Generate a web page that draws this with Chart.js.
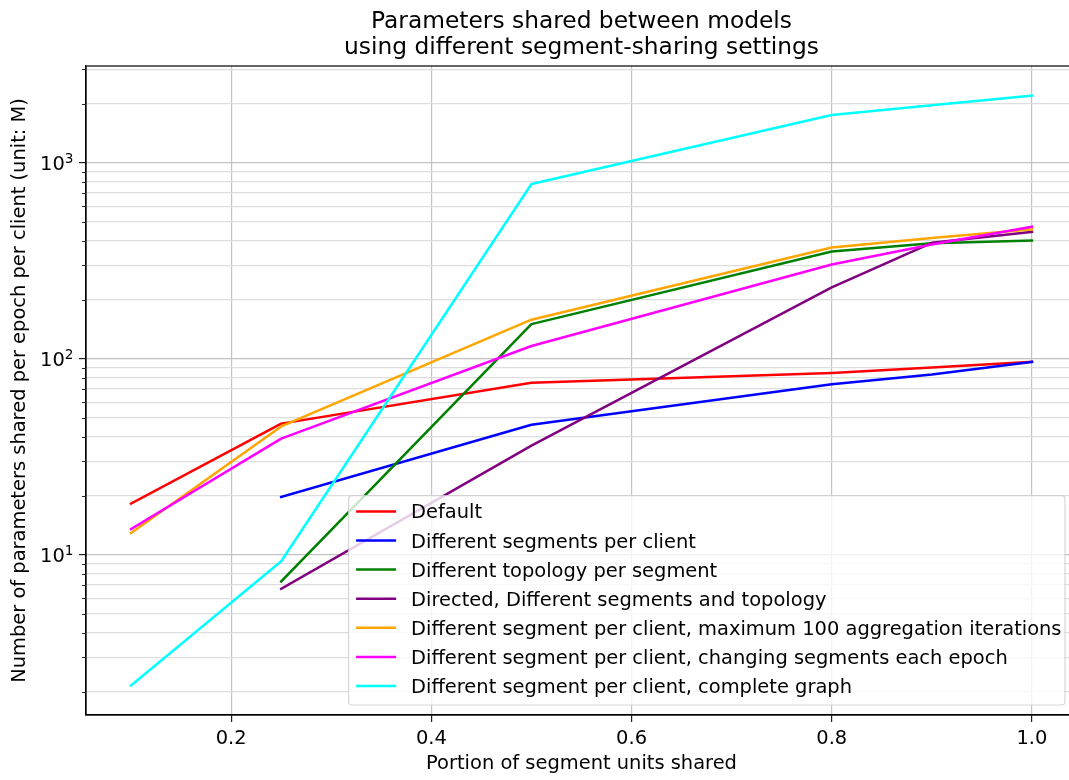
<!DOCTYPE html>
<html>
<head>
<meta charset="utf-8">
<title>Parameters shared between models</title>
<script src="https://cdn.jsdelivr.net/npm/chart.js@4/dist/chart.umd.min.js"></script>
<style>
  html, body { margin: 0; padding: 0; background: #ffffff; overflow: hidden; }
  #wrap { width: 1078px; height: 780px; }
</style>
</head>
<body>
<div id="wrap"><canvas id="chart" width="1078" height="780"></canvas></div>
<script>
// Portion of segment units shared (x positions)
const shareFractions = [0.1, 0.25, 0.5, 0.8, 0.9, 1.0];

// Parameters shared per epoch per client, in millions (null = not measured)
const defaultSeries            = [18.2, 46.6, 75.3, 84.5, 90.0, 96.2];
const segmentsPerClient        = [null, 19.7, 46.0, 74.0, 83.0, 96.2];
const topologyPerSegment       = [null, 7.3, 150, 352, 388, 400];
const directedSegmentsTopology = [null, 6.7, 36.0, 231, 390, 443];
const maxAggregation100        = [12.9, 45.1, 158, 369, 412, 457];
const changingSegments         = [13.5, 39.1, 116, 302, 382, 471];
const completeGraph            = [2.15, 9.25, 778, 1750, 1960, 2200];

const seriesLabels = [
  'Default',
  'Different segments per client',
  'Different topology per segment',
  'Directed, Different segments and topology',
  'Different segment per client, maximum 100 aggregation iterations',
  'Different segment per client, changing segments each epoch',
  'Different segment per client, complete graph'
];
const seriesValues = [
  defaultSeries, segmentsPerClient, topologyPerSegment, directedSegmentsTopology,
  maxAggregation100, changingSegments, completeGraph
];
const seriesColors = ['#ff0000', '#0000ff', '#008000', '#800080', '#ffa500', '#ff00ff', '#00ffff'];

const xTickValues = [0.2, 0.4, 0.6, 0.8, 1.0];
const xLimits = [0.055, 1.045];
const yLimits = [1.52, 3112];

const titleLines = ['Parameters shared between models', 'using different segment-sharing settings'];
const xAxisTitle = 'Portion of segment units shared';
const yAxisTitle = 'Number of parameters shared per epoch per client (unit: M)';

const FONT = '"DejaVu Sans", "Liberation Sans", sans-serif';
const FS = 19.44;          // base text size
const TITLE_FS = 23.33;    // title text size
const MAJOR_GRID = '#c2c2c2';
const MINOR_GRID = '#dddddd';

function isDecade(v) {
  const l = Math.log10(v);
  return Math.abs(l - Math.round(l)) < 1e-9;
}

// Log-axis ticks: every 1..9 x 10^n inside the limits
function logTicks(min, max) {
  const out = [];
  for (let e = Math.floor(Math.log10(min)); e <= Math.ceil(Math.log10(max)); e++) {
    for (let m = 1; m <= 9; m++) {
      const v = m * Math.pow(10, e);
      if (v >= min && v <= max) out.push(v);
    }
  }
  return out;
}

const datasets = seriesValues.map((vals, i) => ({
  label: seriesLabels[i],
  data: shareFractions.map((x, j) => ({ x: x, y: vals[j] })).filter(p => p.y !== null),
  borderColor: seriesColors[i],
  backgroundColor: seriesColors[i],
  borderWidth: 2.5,
  pointRadius: 0,
  pointHoverRadius: 0,
  tension: 0,
  fill: false,
  borderJoinStyle: 'round',
  borderCapStyle: 'square',
  order: seriesValues.length - i
}));

// Frame around the plotting area, minor tick marks and 10^n labels of the log axis
const framePlugin = {
  id: 'frame',
  afterDatasetsDraw(chart) {
    const { ctx, chartArea: a } = chart;
    const y = chart.scales.y;
    ctx.save();
    ctx.strokeStyle = '#000000';
    ctx.lineWidth = 1.2;
    ctx.strokeRect(a.left, a.top, a.right - a.left, a.bottom - a.top);
    ctx.strokeStyle = '#222222';
    ctx.lineWidth = 1.0;
    y.ticks.forEach(t => {
      if (isDecade(t.value)) return;
      const py = Math.round(y.getPixelForValue(t.value)) + 0.5;
      ctx.beginPath();
      ctx.moveTo(a.left - 4, py);
      ctx.lineTo(a.left, py);
      ctx.stroke();
    });
    // decade labels as 10 with a raised exponent
    const supFs = FS * 0.7;
    const labelRight = a.left - 12.5;
    ctx.fillStyle = '#000000';
    ctx.textBaseline = 'alphabetic';
    y.ticks.forEach(t => {
      if (!isDecade(t.value)) return;
      const py = y.getPixelForValue(t.value);
      const exp = String(Math.round(Math.log10(t.value)));
      ctx.font = supFs + 'px ' + FONT;
      const supW = ctx.measureText(exp).width;
      ctx.textAlign = 'left';
      ctx.fillText(exp, labelRight - supW, py + 0.5);
      ctx.font = FS + 'px ' + FONT;
      ctx.textAlign = 'right';
      ctx.fillText('10', labelRight - supW, py + 0.365 * FS);
    });
    ctx.restore();
  }
};

// Legend drawn inside the plotting area, lower right
const insideLegend = {
  id: 'insideLegend',
  afterDraw(chart) {
    const { ctx, chartArea: a } = chart;
    const ds = chart.data.datasets;
    ctx.save();
    ctx.font = FS + 'px ' + FONT;
    const textW = Math.max.apply(null, ds.map(d => ctx.measureText(d.label).width));
    const padL = 7.5, handleLen = 40, gap = 15, padR = 3.5;
    const rowH = 29.1, firstRow = 15.7, lastPad = 19;
    const w = padL + handleLen + gap + textW + padR;
    const h = firstRow + rowH * (ds.length - 1) + lastPad;
    const x = a.right - 12 - w;
    const y = a.bottom - 10 - h;
    const r = 3.5;
    ctx.beginPath();
    ctx.moveTo(x + r, y);
    ctx.lineTo(x + w - r, y);
    ctx.arcTo(x + w, y, x + w, y + r, r);
    ctx.lineTo(x + w, y + h - r);
    ctx.arcTo(x + w, y + h, x + w - r, y + h, r);
    ctx.lineTo(x + r, y + h);
    ctx.arcTo(x, y + h, x, y + h - r, r);
    ctx.lineTo(x, y + r);
    ctx.arcTo(x, y, x + r, y, r);
    ctx.closePath();
    ctx.fillStyle = 'rgba(255,255,255,0.8)';
    ctx.fill();
    ctx.strokeStyle = 'rgba(204,204,204,0.8)';
    ctx.lineWidth = 1.2;
    ctx.stroke();
    ds.forEach((d, i) => {
      const cy = y + firstRow + i * rowH;
      ctx.strokeStyle = d.borderColor;
      ctx.lineWidth = 2.5;
      ctx.lineCap = 'butt';
      ctx.beginPath();
      ctx.moveTo(x + padL, cy);
      ctx.lineTo(x + padL + handleLen, cy);
      ctx.stroke();
      ctx.fillStyle = '#000000';
      ctx.textAlign = 'left';
      ctx.textBaseline = 'alphabetic';
      ctx.fillText(d.label, x + padL + handleLen + gap, cy + 0.365 * FS);
    });
    ctx.restore();
  }
};

new Chart(document.getElementById('chart'), {
  type: 'line',
  data: { datasets: datasets },
  plugins: [framePlugin, insideLegend],
  options: {
    responsive: false,
    animation: false,
    devicePixelRatio: 1,
    layout: { padding: { left: 0, right: 1, top: 0, bottom: 0 } },
    plugins: {
      legend: { display: false },
      tooltip: { enabled: false },
      title: {
        display: true,
        text: titleLines,
        fullSize: false,
        color: '#000000',
        font: { family: FONT, size: TITLE_FS, weight: 'normal', lineHeight: '26px' },
        padding: { top: 9, bottom: 5 }
      }
    },
    scales: {
      x: {
        type: 'linear',
        min: xLimits[0],
        max: xLimits[1],
        afterBuildTicks: s => { s.ticks = xTickValues.map(v => ({ value: v })); },
        afterFit: s => { s.height = 65; },
        ticks: {
          autoSkip: false,
          maxRotation: 0,
          padding: 4.8,
          color: '#000000',
          font: { family: FONT, size: FS },
          callback: v => Number(v).toFixed(1)
        },
        grid: {
          color: MAJOR_GRID,
          lineWidth: 1.2,
          drawTicks: true,
          tickLength: 7,
          tickColor: '#222222',
          tickWidth: 1.2
        },
        border: { display: true, color: '#000000', width: 1.2 },
        title: {
          display: true,
          text: xAxisTitle,
          color: '#000000',
          font: { family: FONT, size: FS },
          padding: { top: 0, bottom: 4.3 }
        }
      },
      y: {
        type: 'logarithmic',
        min: yLimits[0],
        max: yLimits[1],
        afterBuildTicks: s => { s.ticks = logTicks(yLimits[0], yLimits[1]).map(v => ({ value: v })); },
        afterFit: s => { s.width = 86; },
        ticks: {
          autoSkip: false,
          padding: 5,
          color: '#000000',
          font: { family: FONT, size: FS },
          callback: () => ''
        },
        grid: {
          color: c => (c.tick && isDecade(c.tick.value)) ? MAJOR_GRID : MINOR_GRID,
          lineWidth: 1.2,
          drawTicks: true,
          tickLength: 7,
          tickColor: c => (c.tick && isDecade(c.tick.value)) ? '#222222' : 'rgba(0,0,0,0)',
          tickWidth: 1.2
        },
        border: { display: true, color: '#000000', width: 1.2 },
        title: {
          display: true,
          text: yAxisTitle,
          color: '#000000',
          font: { family: FONT, size: FS },
          padding: { top: 7.8, bottom: 0 }
        }
      }
    }
  }
});
</script>
</body>
</html>
